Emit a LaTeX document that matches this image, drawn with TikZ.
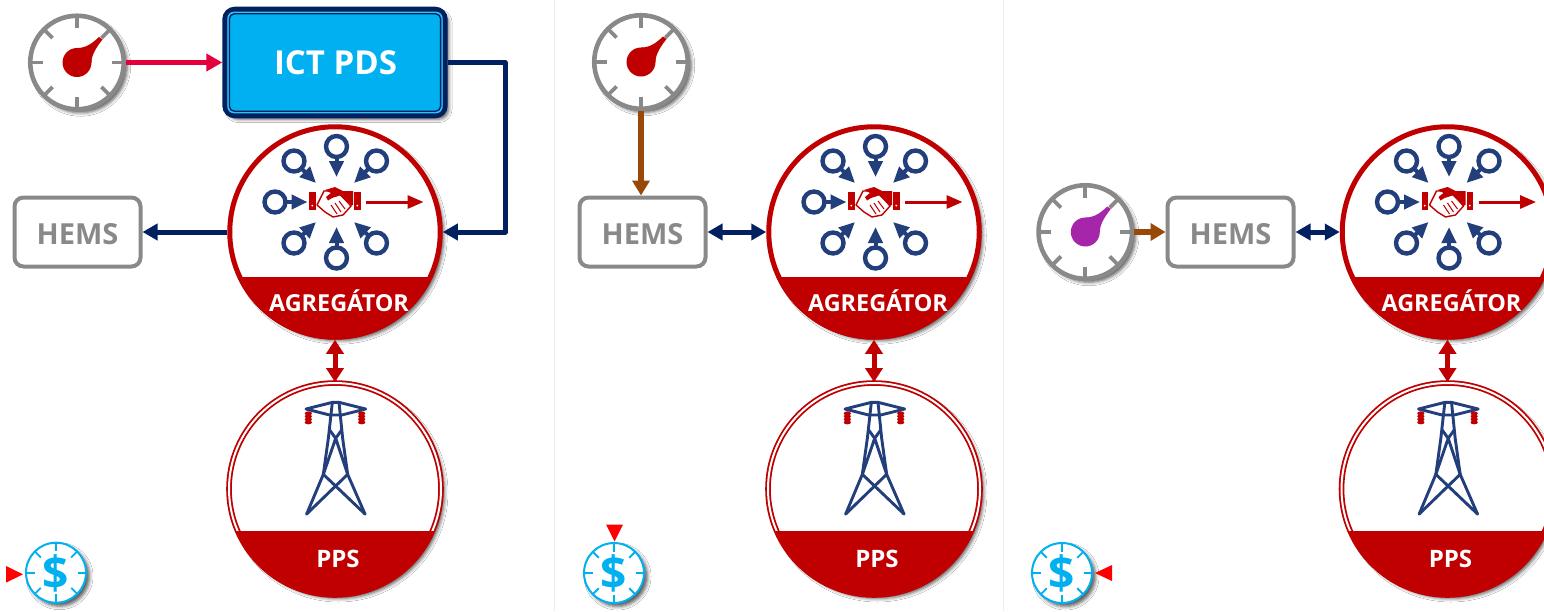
\documentclass[tikz,border=0pt]{standalone}
\usepackage{fontspec}
\setmainfont{Open Sans}
\usetikzlibrary{arrows.meta,calc,shadows.blur}
\definecolor{navy}{HTML}{002060}
\definecolor{sky}{HTML}{00B0F0}
\definecolor{dred}{HTML}{C00000}
\definecolor{gry}{HTML}{898989}
\definecolor{ringb}{HTML}{223F7C}
\definecolor{brwn}{HTML}{984807}
\definecolor{crim}{HTML}{E4003A}
\definecolor{purp}{HTML}{A626AA}
\tikzset{
  softshadow/.style={blur shadow={shadow xshift=3.5pt,shadow yshift=-3.5pt,shadow blur radius=3.5pt,shadow opacity=65}},
  gaugeface/.style={circle,draw=gry,line width=4.6pt,fill=white,minimum size=93.5pt,inner sep=0pt,softshadow},
  gaugetick/.style={draw=gry,line width=3.8pt},
  hemsbox/.style={draw=gry,line width=4pt,fill=white,rounded corners=9pt,minimum width=126pt,minimum height=69pt,inner sep=0pt,text=gry},
  hemstext/.style={text=gry,font=\bfseries\fontsize{29}{29}\selectfont,inner sep=0pt},
  bigcircle/.style={circle,draw=dred,line width=5pt,fill=white,minimum size=210.5pt,inner sep=0pt,softshadow},
  ppscircle/.style={circle,draw=dred,double=white,double distance=2pt,line width=1.8pt,fill=white,minimum size=212pt,inner sep=0pt,softshadow},
  agglabel/.style={text=white,font=\bfseries\fontsize{23.4}{23.4}\selectfont,inner sep=0pt},
  ppslabel/.style={text=white,font=\bfseries\fontsize{24}{24}\selectfont,inner sep=0pt},
  navyarrow/.style={draw=navy,line width=5pt,-{Triangle[length=15pt,width=16pt]}},
  navydouble/.style={draw=navy,line width=5pt,{Triangle[length=15pt,width=16pt]}-{Triangle[length=15pt,width=16pt]}},
  brownarrow/.style={draw=brwn,line width=5.2pt,-{Triangle[length=15pt,width=17pt]}},
  reddouble/.style={draw=dred,line width=5pt,{Triangle[length=14pt,width=17pt]}-{Triangle[length=14pt,width=17pt]}},
  dollarface/.style={circle,draw=sky,line width=2pt,fill=white,minimum size=60pt,inner sep=0pt,softshadow},
  dollartext/.style={text=sky,font=\bfseries\fontsize{46}{46}\selectfont,inner sep=0pt},
  markertri/.style={fill=red,draw=none},
  ringicon/.style={draw=ringb,line width=4.4pt,fill=white},
  ringstem/.style={draw=ringb,line width=4pt,-{Triangle[length=16pt,width=14pt]}},
  towerline/.style={draw=ringb,line width=2.9pt,line cap=round,line join=round},
  separator/.style={draw=black!7,line width=1pt},
}
\newcommand{\gaugeat}[4]{%
  \node[gaugeface] (#1) at (#2,#3) {};
  \begin{scope}[shift={(#2,#3)}]
    \foreach \a in {0,45,...,315} \draw[gaugetick] (\a:34.5) -- (\a:47);
    \fill[#4] (0,0) circle (14.5);
    \fill[#4] (0,-14.5) .. controls (10,-14.5) and (16,-20) .. (22,-25.5) -- (25.5,-23) .. controls (20,-16) and (14.5,-8) .. (14.5,0) -- cycle;
  \end{scope}}
\newcommand{\dollarat}[3]{%
  \node[dollarface] (#1) at (#2,#3) {};
  \begin{scope}[shift={(#2,#3)}]
    \foreach \a in {0,45,...,315} \draw[draw=sky,line width=1.8pt] (\a:21.5) -- (\a:30);
  \end{scope}
  \node[dollartext] at (#2,{#3+0.5}) {\$};}
\newcommand{\ringarr}[4]{%
  \draw[ringstem] (#1,#2) -- (#3,#4);
  \draw[ringicon] (#1,#2) circle (10.5);}
\newcommand{\aggat}[3]{%
  \node[bigcircle] (#1) at (#2,#3) {};
  \begin{scope}
    \clip (#2,#3) circle (107.5);
    \fill[dred] ({#2-110},{#3+45}) rectangle ({#2+110},{#3+110});
  \end{scope}
  \node[agglabel] at ({#2+4},{#3+68.5}) {AGREGÁTOR};
  \begin{scope}[shift={(#2,{#3-30})}]
    \ringarr{1.5}{-55.5}{1.5}{-25}
    \ringarr{-41}{-41}{-19}{-19}
    \ringarr{41.5}{-41}{19}{-19}
    \ringarr{-60}{0}{-27.5}{0}
    \ringarr{-41}{41}{-19}{20}
    \ringarr{1.5}{56}{1.5}{25}
    \ringarr{41.5}{41}{19}{20}
    \draw[draw=dred,line width=3pt,-{Triangle[length=16pt,width=13pt]}] (31,0) -- (88.5,0);
    % handshake
    \fill[dred] (-26,-10) rectangle (-19.5,8);
    \fill[dred] (19,-10) rectangle (25.5,8);
    \fill[white] (-22.7,3.6) circle (1);
    \fill[white] (22.3,3.6) circle (1);
    \draw[dred,line width=1.4pt,fill=white,line join=round] (-11,-11) -- (-18,3) -- (-10,10) -- (-2,15) -- (8,13) -- (16,4) -- (6,-8) -- (-2,-11) -- cycle;
    \fill[dred] (-10,-12) -- (0,-15) -- (8,-11) -- (18,-11) -- (18,3) -- (15.5,4) -- (5,-6.5) -- (-3,-4) -- (-7,-1.5) -- (-9,-5) -- (-4,-9) -- cycle;
    \draw[dred,line width=1pt] (-4,3) -- (2,12) (0,1) -- (6,10) (4,-1) -- (10,7);
  \end{scope}}
\newcommand{\ppsat}[3]{%
  \node[ppscircle] (#1) at (#2,#3) {};
  \begin{scope}
    \clip (#2,#3) circle (107.5);
    \fill[dred] ({#2-110},{#3+41.7}) rectangle ({#2+110},{#3+110});
  \end{scope}
  \node[ppslabel] at ({#2+3},{#3+70}) {PPS};
  \begin{scope}[shift={(#2,#3)},x=0.3333pt,y=-0.3333pt,shift={(-120,-282)}]
    \draw[towerline] (112,22) -- (132,22) -- (212,42) -- (140,60) -- (104,60) -- (33,42) -- cycle;
    \draw[towerline] (112,22) -- (100,130) -- (85,238) -- (35,357);
    \draw[towerline] (132,22) -- (143,130) -- (158,238) -- (210,357);
    \draw[towerline] (104,105) -- (122,130) -- (85,238) (140,105) -- (122,130) -- (158,238);
    \draw[towerline] (85,238) -- (210,357) (158,238) -- (35,357);
    \foreach \tx in {40,200} {
      \foreach \ty in {55,64,73,82} \fill[dred] (\tx,\ty) ellipse (11 and 6);
      \fill[dred] (\tx-7,50) rectangle (\tx+7,88);
    }
  \end{scope}}
\begin{document}
\begin{tikzpicture}[x=1pt,y=-1pt]
\useasboundingbox (0,0) rectangle (1544,611);
\clip (0,0) rectangle (1544,611);
\fill[white] (0,0) rectangle (1544,611);
\coordinate (sepaT) at (554,0); \coordinate (sepaB) at (554,611);
\coordinate (sepbT) at (1003,0); \coordinate (sepbB) at (1003,611);
\draw[separator] (sepaT) -- (sepaB);
\draw[separator] (sepbT) -- (sepbB);

% panel 1
\node[draw=navy,line width=5.2pt,fill=sky,rounded corners=10pt,minimum width=220.2pt,minimum height=106.4pt,inner sep=0pt,softshadow] (ict) at (335,62.5) {};
\draw[sky!80!white,line width=1.4pt,rounded corners=6pt] (228,12.4) rectangle (442,112.6);
\draw[navy,line width=1.3pt,rounded corners=5pt] (229.4,13.8) rectangle (440.6,111.2);
\node[text=white,font=\bfseries\fontsize{33}{33}\selectfont,inner sep=0pt] at (335.5,63) {ICT PDS};
\aggat{agg1}{335}{232}
\ppsat{pps1}{335}{489}
\node[hemsbox] (hems1) at (77.5,232) {};
\node[hemstext] at (77.5,234.5) {HEMS};
\gaugeat{g1}{77}{62.5}{dred}
\dollarat{d1}{56}{572.7}
\coordinate (ictelbow) at (505,62.5);
\coordinate (aggin) at (505,232);
\draw[draw=crim,line width=5pt,-{Triangle[length=16pt,width=17pt]}] (g1.east) -- (ict.west);
\draw[draw=navy,line width=5pt,line join=round,-{Triangle[length=15pt,width=16pt]}] (ict.east) -- (ictelbow) -- (aggin) -- (agg1.east |- aggin);
\draw[navyarrow] (agg1.west) -- (hems1.east);
\draw[reddouble] (agg1.south) -- (pps1.north);
\fill[markertri] (6,566) -- (23,574.3) -- (6,582.7) -- cycle;

% panel 2
\aggat{agg2}{874}{232}
\ppsat{pps2}{874}{489}
\node[hemsbox] (hems2) at (642.5,232) {};
\node[hemstext] at (642.5,234.5) {HEMS};
\gaugeat{g2}{641}{62}{dred}
\dollarat{d2}{614}{573}
\draw[brownarrow] (g2.south) -- (hems2.north -| g2.south);
\draw[navydouble] (hems2.east) -- (agg2.west);
\draw[reddouble] (agg2.south) -- (pps2.north);
\fill[markertri] (606,524.5) -- (623,524.5) -- (614.5,541.5) -- cycle;

% panel 3
\aggat{agg3}{1447.5}{232}
\ppsat{pps3}{1447.5}{489}
\node[hemsbox] (hems3) at (1230.5,232) {};
\node[hemstext] at (1230.5,234.5) {HEMS};
\gaugeat{g3}{1085.3}{232}{purp}
\dollarat{d3}{1062}{573}
\draw[brownarrow] (g3.east) -- (hems3.west);
\draw[navydouble] (hems3.east) -- (agg3.west);
\draw[reddouble] (agg3.south) -- (pps3.north);
\fill[markertri] (1112,565) -- (1095,573) -- (1112,581) -- cycle;
\end{tikzpicture}
\end{document}
